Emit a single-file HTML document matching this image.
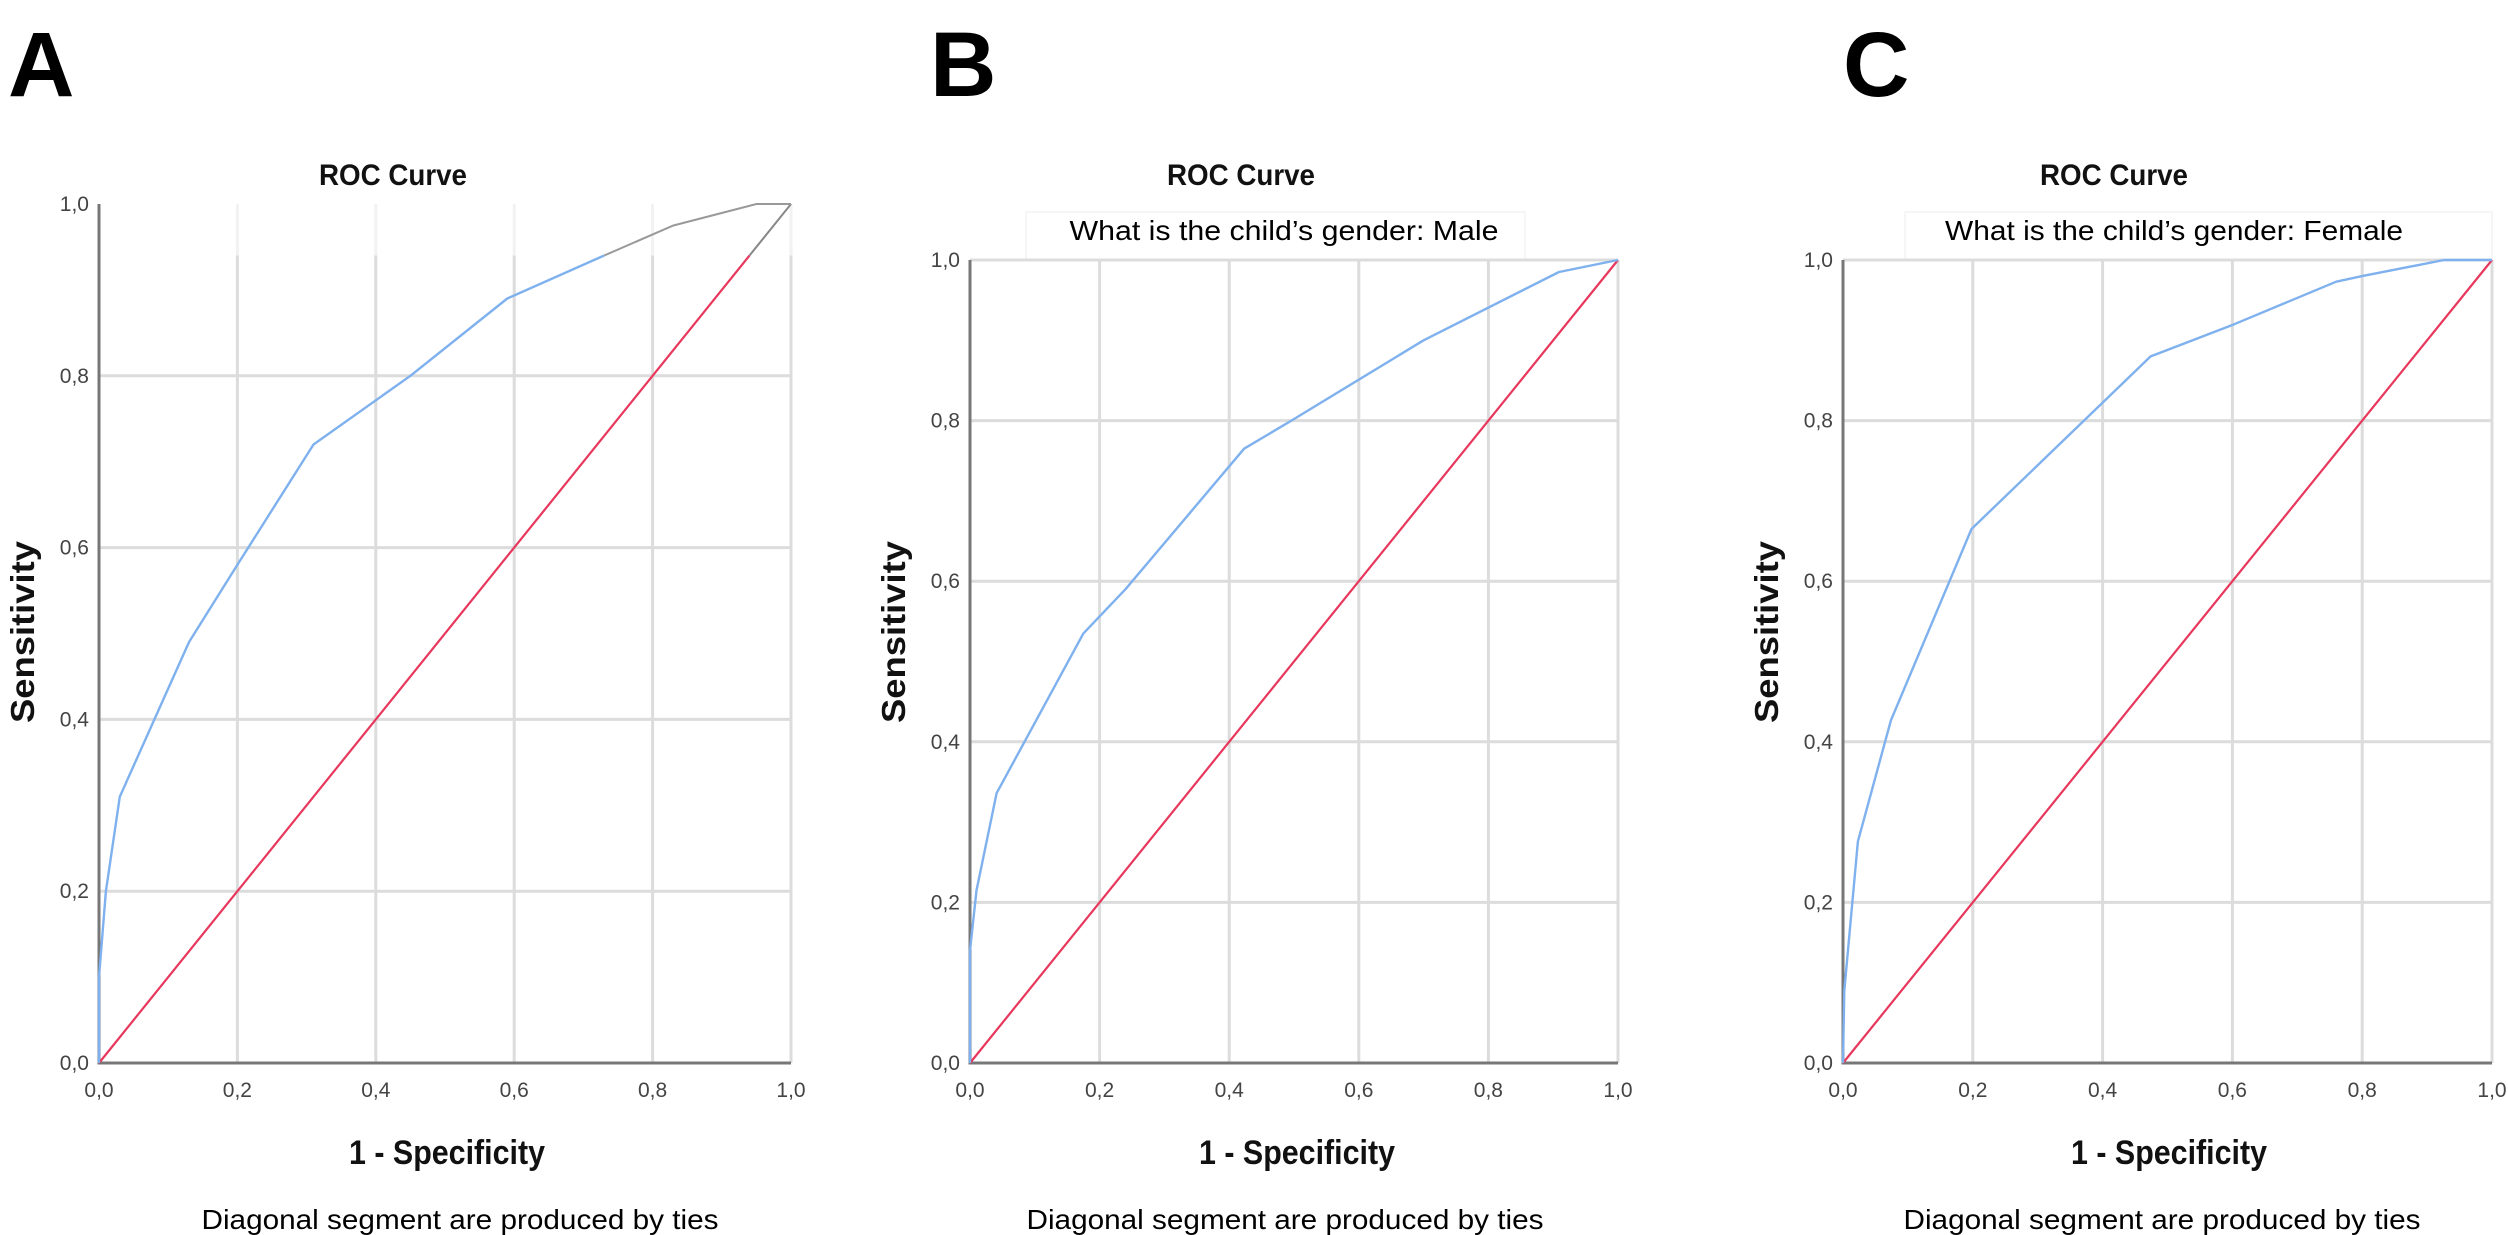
<!DOCTYPE html>
<html><head><meta charset="utf-8"><style>
html,body{margin:0;padding:0;background:#fff;}
svg{display:block;font-family:"Liberation Sans",sans-serif;}
</style></head><body>
<svg id="fig" width="2508" height="1235" viewBox="0 0 2508 1235" xmlns="http://www.w3.org/2000/svg"></svg>
<script>
const ticks = [0, 0.2, 0.4, 0.6, 0.8, 1.0];
const tickLabels = ["0,0", "0,2", "0,4", "0,6", "0,8", "1,0"];
const xTickLabels = ["0,0", "0,2", "0,4", "0,6", "0,8", "1,0"];
const panelLetters = ["A", "B", "C"];
const subtitles = ["", "What is the child\u2019s gender: Male", "What is the child\u2019s gender: Female"];
const aFpr = [0, 0, 0.01, 0.03, 0.08, 0.13, 0.2, 0.31, 0.45, 0.59, 0.73, 0.83, 0.95, 1];
const aTpr = [0, 0.1, 0.2, 0.31, 0.4, 0.49, 0.58, 0.72, 0.80, 0.89, 0.94, 0.975, 1, 1];
const bFpr = [0, 0, 0.01, 0.041, 0.175, 0.24, 0.423, 0.496, 0.70, 0.909, 1];
const bTpr = [0, 0.14, 0.215, 0.336, 0.535, 0.59, 0.765, 0.80, 0.90, 0.985, 1];
const cFpr = [0, 0.002, 0.023, 0.074, 0.198, 0.397, 0.474, 0.603, 0.76, 0.80, 0.926, 1];
const cTpr = [0, 0.09, 0.276, 0.427, 0.665, 0.82, 0.88, 0.92, 0.973, 0.98, 1, 1];

const NS = "http://www.w3.org/2000/svg";
const svg = document.getElementById("fig");
function mk(tag, attrs, parent) {
  const e = document.createElementNS(NS, tag);
  for (const k in attrs) e.setAttribute(k, attrs[k]);
  (parent || svg).appendChild(e);
  return e;
}
const panels = [
  {x0: 99, x1: 791, y0: 1063, y1: 204, fpr: aFpr, tpr: aTpr, title: 393, sens: 22, letterX: 8, grey: 0.73, topLine: false, xlab: 447, diag: 460},
  {x0: 970, x1: 1618, y0: 1063, y1: 260, fpr: bFpr, tpr: bTpr, title: 1241, sens: 893, letterX: 930, grey: 2, topLine: true, xlab: 1297, diag: 1285, subX: 1284, boxL: 1026, boxR: 1525},
  {x0: 1843, x1: 2492, y0: 1063, y1: 260, fpr: cFpr, tpr: cTpr, title: 2114, sens: 1766, letterX: 1843, grey: 2, topLine: true, xlab: 2169, diag: 2162, subX: 2174, boxL: 1905, boxR: 2492}
];
panels.forEach((p, i) => {
  const g = mk("g", {});
  
  
  const sx = v => p.x0 + v * (p.x1 - p.x0);
  const sy = v => p.y0 + v * (p.y1 - p.y0);
  const L = mk("text", {x: p.letterX, y: 96, "font-size": 92, "font-weight": "bold", fill: "#000"}, g);
  L.textContent = panelLetters[i];
  
  
  const t = mk("text", {x: p.title, y: 185, "font-size": 30, "font-weight": "bold", "text-anchor": "middle", fill: "#111", textLength: 148, lengthAdjust: "spacingAndGlyphs"}, g);
  t.textContent = "ROC Curve";
  
  
  if (subtitles[i]) {
    const box = mk("rect", {x: p.boxL, y: 212, width: p.boxR - p.boxL, height: p.y1 - 212, fill: "#fff", stroke: "#eee", "stroke-width": 1}, g);
    
    
    const s = mk("text", {x: p.subX, y: 240, "font-size": 28, "text-anchor": "middle", fill: "#000", textLength: i == 1 ? 429 : 458, lengthAdjust: "spacingAndGlyphs"}, g);
    s.textContent = subtitles[i];
    
    
  }
  ticks.forEach((v, k) => {
    if (k > 0 && (k < 5 || p.topLine)) {
      const h = mk("line", {x1: p.x0, x2: p.x1, y1: sy(v), y2: sy(v), stroke: "#dcdcdc", "stroke-width": 3}, g);
      
      
    }
    if (k > 0) {
      const vl = mk("line", {x1: sx(v), x2: sx(v), y1: p.y0, y2: p.topLine ? p.y1 : sy(0.94), stroke: "#dcdcdc", "stroke-width": 3}, g);
      
      
      if (!p.topLine) {
        const vf = mk("line", {x1: sx(v), x2: sx(v), y1: sy(0.94), y2: p.y1, stroke: "#f2f2f2", "stroke-width": 3}, g);
        
        
      }
    }
    const yl = mk("text", {x: p.x0 - 10, y: sy(v) + 7, "font-size": 21, "text-anchor": "end", fill: "#444"}, g);
    yl.textContent = tickLabels[k];
    
    
    const xl = mk("text", {x: sx(v), y: p.y0 + 34, "font-size": 21, "text-anchor": "middle", fill: "#444"}, g);
    xl.textContent = xTickLabels[k];
    
    
  });
  const ax = mk("path", {d: `M${p.x0},${p.y1} L${p.x0},${p.y0} L${p.x1},${p.y0}`, fill: "none", stroke: "#777", "stroke-width": 3}, g);
  
  
  const dEnd = p.grey < 1 ? 0.94 : 1;
  const d = mk("line", {x1: sx(0), y1: sy(0), x2: sx(dEnd), y2: sy(dEnd), stroke: "#e8375c", "stroke-width": 2.2}, g);
  
  
  if (p.grey < 1) {
    const dg = mk("line", {x1: sx(0.94), y1: sy(0.94), x2: sx(1), y2: sy(1), stroke: "#888", "stroke-width": 2}, g);
    
    
  }
  let blue = [], grey = [];
  p.fpr.forEach((f, k) => {
    const pt = sx(f).toFixed(1) + "," + sy(p.tpr[k]).toFixed(1);
    if (f <= p.grey) blue.push(pt);
    if (f >= p.grey) grey.push(pt);
  });
  const c = mk("polyline", {points: blue.join(" "), fill: "none", stroke: "#7fb1ee", "stroke-width": 2.4, "stroke-linejoin": "round"}, g);
  
  
  if (grey.length > 1) {
    const cg = mk("polyline", {points: grey.join(" "), fill: "none", stroke: "#999", "stroke-width": 2}, g);
    
    
  }
  const yt = mk("text", {x: 0, y: 0, "font-size": 33, "font-weight": "bold", "text-anchor": "middle", fill: "#111", transform: `translate(${p.sens + 12},632) rotate(-90)`, textLength: 182, lengthAdjust: "spacingAndGlyphs"}, g);
  yt.textContent = "Sensitivity";
  
  
  const xt = mk("text", {x: p.xlab, y: 1164, "font-size": 34, "font-weight": "bold", "text-anchor": "middle", fill: "#111", textLength: 196, lengthAdjust: "spacingAndGlyphs"}, g);
  xt.textContent = "1 - Specificity";
  
  
  const dn = mk("text", {x: p.diag, y: 1229, "font-size": 28, "text-anchor": "middle", fill: "#000", textLength: 517, lengthAdjust: "spacingAndGlyphs"}, g);
  dn.textContent = "Diagonal segment are produced by ties";
  
  
});
</script>
</body></html>
